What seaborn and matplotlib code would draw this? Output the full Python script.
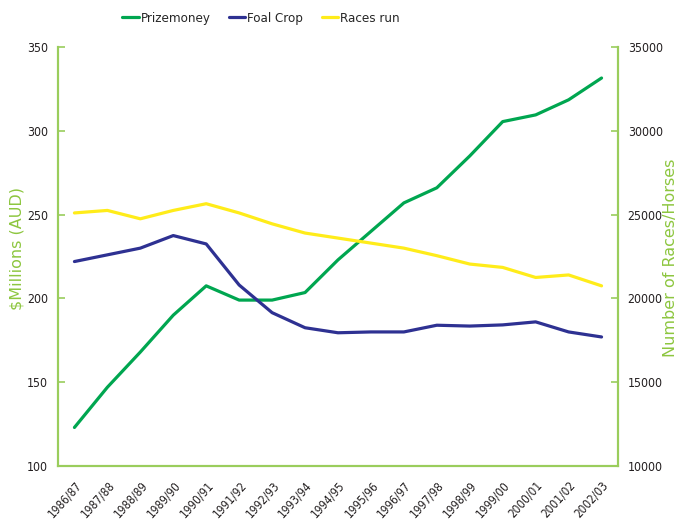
import matplotlib
matplotlib.use('Agg')
import matplotlib.pyplot as plt
import pandas as pd
import seaborn as sns

# Data
seasons = ['1986/87', '1987/88', '1988/89', '1989/90', '1990/91', '1991/92',
           '1992/93', '1993/94', '1994/95', '1995/96', '1996/97', '1997/98',
           '1998/99', '1999/00', '2000/01', '2001/02', '2002/03']
prizemoney = [123, 147, 168, 190, 207.5, 199, 199, 203.5, 223, 240, 257,
              266, 285, 305.5, 309.5, 318.5, 331.5]
foal_crop = [22200, 22600, 23000, 23750, 23250, 20800, 19150, 18250, 17950,
             18000, 18000, 18400, 18350, 18420, 18600, 18000, 17700]
races_run = [25100, 25250, 24750, 25250, 25650, 25100, 24450, 23900, 23600,
             23300, 23000, 22550, 22050, 21850, 21250, 21400, 20750]

green = '#00A650'
blue = '#2E3192'
yellow = '#FFEC1A'
axis_green = '#9ACD5C'
label_green = '#8DC63F'
text_col = '#231F20'

df = pd.DataFrame({'season': seasons, 'x': range(len(seasons)),
                   'Prizemoney': prizemoney, 'Foal Crop': foal_crop,
                   'Races run': races_run})

sns.set_style('white')
plt.rcParams['font.family'] = ['DejaVu Sans']
plt.rcParams['font.stretch'] = 'condensed'

fig = plt.figure(figsize=(6.86, 5.19), dpi=100)
ax = fig.add_axes([0.0845, 0.1021, 0.8164, 0.8073])
ax2 = ax.twinx()

sns.lineplot(data=df, x='x', y='Prizemoney', color=green, lw=2.3, ax=ax,
             label='Prizemoney', legend=False)
sns.lineplot(data=df, x='x', y='Foal Crop', color=blue, lw=2.3, ax=ax2,
             label='Foal Crop', legend=False)
sns.lineplot(data=df, x='x', y='Races run', color=yellow, lw=2.3, ax=ax2,
             label='Races run', legend=False)

n = len(seasons)
ax.set_xlim(-0.5, n - 0.5)
ax.set_ylim(100, 350)
ax2.set_ylim(10000, 35000)
ax.set_yticks(range(100, 351, 50))
ax2.set_yticks(range(10000, 35001, 5000))

# category boundaries as ticks, labels at category centres
ax.set_xticks([i - 0.5 for i in range(n + 1)])
ax.set_xticklabels([])
ax.set_xticks(range(n), minor=True)
ax.set_xticklabels(seasons, minor=True, rotation=48, ha='right',
                   rotation_mode='anchor', fontsize=8.5, color=text_col)
ax.tick_params(axis='x', which='minor', length=0, pad=9)
ax.tick_params(axis='x', which='major', length=4, width=1.2, color=axis_green,
               direction='out')

ax.tick_params(axis='y', direction='in', length=5, width=1.2, color=axis_green,
               labelsize=8.8, labelcolor=text_col, pad=7)
ax2.tick_params(axis='y', direction='in', length=5, width=1.2, color=axis_green,
                labelsize=8.8, labelcolor=text_col, pad=7)

for a in (ax, ax2):
    a.spines['top'].set_visible(False)
    for s in ('left', 'right', 'bottom'):
        a.spines[s].set_color(axis_green)
        a.spines[s].set_linewidth(1.5)
    a.set_xlabel('')
    a.grid(False)

ax.set_ylabel('$Millions (AUD)', color=label_green, fontsize=11.5,
              stretch='normal')
ax2.set_ylabel('Number of Races/Horses', color=label_green, fontsize=11.5,
               stretch='normal')
ax.yaxis.set_label_coords(-0.059, 0.519)
ax2.yaxis.set_label_coords(1.08, 0.498)

handles = ax.get_lines()[:1] + ax2.get_lines()[:2]
fig.legend(handles, ['Prizemoney', 'Foal Crop', 'Races run'], ncol=3,
           loc='upper left', bbox_to_anchor=(0.178, 0.977), frameon=False,
           borderpad=0, borderaxespad=0, handlelength=1.25,
           handletextpad=0.15, columnspacing=1.4, fontsize=9.5)

fig.savefig('out.png', dpi=100)
